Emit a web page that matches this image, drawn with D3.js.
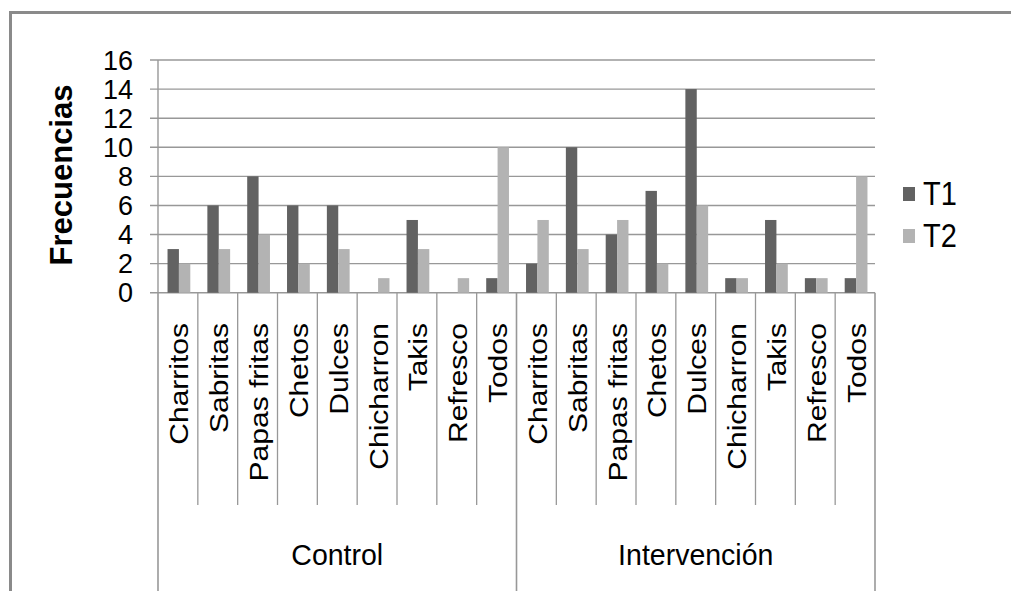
<!DOCTYPE html>
<html>
<head>
<meta charset="utf-8">
<script src="https://cdn.jsdelivr.net/npm/d3@7"></script>
<style>
  html, body { margin: 0; padding: 0; background: #fff; }
  svg { display: block; }
  text { font-family: "Liberation Sans", Arial, sans-serif; fill: #000; }
</style>
</head>
<body>
<div id="chart"></div>
<script>
// ---- data ----
const groups = ["Control", "Intervención"];
const categories = ["Charritos", "Sabritas", "Papas fritas", "Chetos", "Dulces", "Chicharron", "Takis", "Refresco", "Todos"];
const seriesNames = ["T1", "T2"];
const controlT1 = [3, 6, 8, 6, 6, 0, 5, 0, 1];
const controlT2 = [2, 3, 4, 2, 3, 1, 3, 1, 10];
const intervT1 = [2, 10, 4, 7, 14, 1, 5, 1, 1];
const intervT2 = [5, 3, 5, 2, 6, 1, 2, 1, 8];
const yTicks = [0, 2, 4, 6, 8, 10, 12, 14, 16];
const yTitle = "Frecuencias";

const colors = { T1: "#626262", T2: "#b3b3b3" };
const gridColor = "#989898";

// build rows
const rows = [];
groups.forEach((g, gi) => {
  const a = gi === 0 ? controlT1 : intervT1;
  const b = gi === 0 ? controlT2 : intervT2;
  categories.forEach((c, ci) => {
    rows.push({ key: g + "|" + c, group: g, cat: c, T1: a[ci], T2: b[ci] });
  });
});

const W = 1011, H = 591;
const svg = d3.select("#chart").append("svg").attr("width", W).attr("height", H);
svg.append("rect").attr("width", W).attr("height", H).attr("fill", "#fff");

// outer frame (top and left visible)
svg.append("line").attr("x1", 9).attr("x2", W).attr("y1", 12.5).attr("y2", 12.5)
  .attr("stroke", "#8a8a8a").attr("stroke-width", 3);
svg.append("line").attr("x1", 10.5).attr("x2", 10.5).attr("y1", 11).attr("y2", H)
  .attr("stroke", "#8a8a8a").attr("stroke-width", 3);

const plotLeft = 158, plotRight = 875, plotTop = 60, zeroY = 292.7;
const x0 = d3.scaleBand().domain(rows.map(r => r.key)).range([plotLeft, plotRight]).paddingInner(0).paddingOuter(0);
const x1 = d3.scaleBand().domain(seriesNames).range([0, x0.bandwidth()]).paddingInner(0).paddingOuter(0.75);
const y = d3.scaleLinear().domain([0, 16]).range([zeroY, plotTop]);

// gridlines + tick marks
svg.append("g").selectAll("line").data(yTicks).join("line")
  .attr("x1", 150).attr("x2", plotRight)
  .attr("y1", d => y(d)).attr("y2", d => y(d))
  .attr("stroke", gridColor).attr("stroke-width", 1.4);

// y tick labels
svg.append("g").selectAll("text").data(yTicks).join("text")
  .attr("x", 133).attr("y", d => y(d))
  .attr("dy", "0.36em")
  .attr("text-anchor", "end")
  .attr("font-size", 27)
  .text(d => d);

// y axis title
svg.append("text")
  .attr("transform", "translate(72,175) rotate(-90)")
  .attr("text-anchor", "middle")
  .attr("font-size", 31)
  .attr("font-weight", "bold")
  .text(yTitle);

// bars
const barG = svg.append("g");
rows.forEach(r => {
  seriesNames.forEach(s => {
    if (r[s] > 0) {
      barG.append("rect")
        .attr("x", x0(r.key) + x1(s) + 1)
        .attr("y", y(r[s]))
        .attr("width", x1.bandwidth())
        .attr("height", zeroY - y(r[s]))
        .attr("fill", colors[s]);
    }
  });
});

// y axis line
svg.append("line").attr("x1", plotLeft).attr("x2", plotLeft).attr("y1", plotTop).attr("y2", zeroY)
  .attr("stroke", gridColor).attr("stroke-width", 1.4);

// category separators
const inner = rows.map(r => x0(r.key)).filter((v, i) => i % categories.length !== 0);
svg.append("g").selectAll("line").data(inner).join("line")
  .attr("x1", d => d).attr("x2", d => d).attr("y1", zeroY).attr("y2", 505)
  .attr("stroke", gridColor).attr("stroke-width", 1.3);

// group separators
const groupEdges = groups.map(g => x0(g + "|" + categories[0])).concat([plotRight]);
svg.append("g").selectAll("line").data(groupEdges).join("line")
  .attr("x1", d => d).attr("x2", d => d).attr("y1", zeroY).attr("y2", H)
  .attr("stroke", gridColor).attr("stroke-width", 1.6);

// category labels (rotated)
svg.append("g").selectAll("text").data(rows).join("text")
  .attr("transform", d => `translate(${x0(d.key) + x0.bandwidth() / 2 + 1},323) rotate(-90) scale(1.2,1)`)
  .attr("text-anchor", "end")
  .attr("dy", "0.38em")
  .attr("font-size", 25)
  .text(d => d.cat);

// group labels
svg.append("g").selectAll("text").data(groups).join("text")
  .attr("transform", g => {
    const a = x0(g + "|" + categories[0]);
    const b = x0(g + "|" + categories[categories.length - 1]) + x0.bandwidth();
    return `translate(${(a + b) / 2},565) scale(1,1.05)`;
  })
  .attr("text-anchor", "middle")
  .attr("font-size", 28.5)
  .text(g => g);

// legend
const leg = svg.append("g");
seriesNames.forEach((s, i) => {
  const cy = 194 + i * 42;
  leg.append("rect").attr("x", 903).attr("y", cy - 7).attr("width", 12).attr("height", 14).attr("fill", colors[s]);
  leg.append("text")
    .attr("transform", `translate(923,${cy + 11}) scale(1,1.12)`)
    .attr("font-size", 29)
    .text(s);
});
</script>
</body>
</html>
